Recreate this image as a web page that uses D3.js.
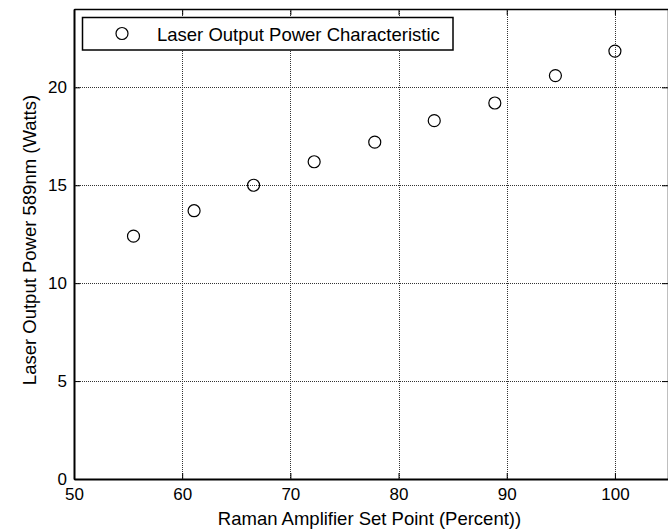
<!DOCTYPE html>
<html>
<head>
<meta charset="utf-8">
<script src="https://d3js.org/d3.v7.min.js"></script>
<style>
  body { margin: 0; background: #fff; }
  svg { display: block; font-family: "Liberation Sans", Arial, sans-serif; }
  .grid line { stroke: #333; stroke-width: 1; stroke-dasharray: 1,1; }
  .axis path, .axis line { stroke: #000; }
  .axis text { fill: #000; font-size: 17px; font-family: "Liberation Sans", Arial, sans-serif; }
</style>
</head>
<body>
<svg id="chart" width="668" height="529"></svg>
<script>
// values
var setPoint = [55.5, 61.1, 66.6, 72.2, 77.8, 83.3, 88.9, 94.5, 100];
var outputPower = [12.4, 13.7, 15.0, 16.2, 17.2, 18.3, 19.2, 20.6, 21.85];
var xTicks = [50, 60, 70, 80, 90, 100];
var yTicks = [0, 5, 10, 15, 20];
var xLabel = "Raman Amplifier Set Point (Percent))";
var yLabel = "Laser Output Power 589nm (Watts)";
var legendLabel = "Laser Output Power Characteristic";

var W = 668, H = 529;
var plot = {left: 74, right: 669, top: 9, bottom: 479};

var svg = d3.select("#chart");
svg.append("rect").attr("width", W).attr("height", H).attr("fill", "#fff");

var x = d3.scaleLinear().domain([50, 105]).range([plot.left, plot.right]);
var y = d3.scaleLinear().domain([0, 24]).range([plot.bottom, plot.top]);

// dotted grid
var grid = svg.append("g").attr("class", "grid");
grid.selectAll(".vx")
  .data(xTicks.slice(1))
  .enter().append("line")
  .attr("x1", d => Math.round(x(d)) + 0.5)
  .attr("x2", d => Math.round(x(d)) + 0.5)
  .attr("y1", plot.top)
  .attr("y2", plot.bottom);
grid.selectAll(".hy")
  .data(yTicks.slice(1))
  .enter().append("line")
  .attr("x1", plot.left)
  .attr("x2", plot.right)
  .attr("y1", d => Math.round(y(d)) + 0.5)
  .attr("y2", d => Math.round(y(d)) + 0.5);

// axes, ticks pointing inwards like matlab
svg.append("g")
  .attr("class", "axis")
  .attr("transform", "translate(0," + plot.bottom + ")")
  .call(d3.axisBottom(x).tickValues(xTicks).tickSizeInner(-6).tickSizeOuter(0).tickPadding(9))
  .call(g => g.select(".domain").attr("stroke-width", 2));

svg.append("g")
  .attr("class", "axis")
  .attr("transform", "translate(0," + plot.top + ")")
  .call(d3.axisTop(x).tickValues(xTicks).tickSizeInner(-6).tickSizeOuter(0).tickFormat(""))
  .call(g => g.select(".domain").attr("stroke-width", 1.5));

svg.append("g")
  .attr("class", "axis")
  .attr("transform", "translate(" + plot.left + ",0)")
  .call(d3.axisLeft(y).tickValues(yTicks).tickSizeInner(-6).tickSizeOuter(0).tickPadding(7))
  .call(g => g.select(".domain").attr("stroke-width", 2));

svg.append("g")
  .attr("class", "axis")
  .attr("transform", "translate(" + (plot.right - 1) + ",0)")
  .call(d3.axisRight(y).tickValues(yTicks).tickSizeInner(-6).tickSizeOuter(0).tickFormat(""))
  .call(g => g.select(".domain").attr("stroke-width", 1.5));

// axis titles
svg.append("text")
  .attr("x", (plot.left + plot.right) / 2 - 2)
  .attr("y", 525)
  .attr("text-anchor", "middle")
  .attr("font-size", 18.5)
  .text(xLabel);

svg.append("text")
  .attr("transform", "translate(36," + ((plot.top + plot.bottom) / 2 - 4) + ") rotate(-90)")
  .attr("text-anchor", "middle")
  .attr("font-size", 18.5)
  .text(yLabel);

// data points
svg.append("g")
  .selectAll("circle")
  .data(setPoint)
  .enter().append("circle")
  .attr("cx", (d, i) => x(d))
  .attr("cy", (d, i) => y(outputPower[i]))
  .attr("r", 6)
  .attr("fill", "none")
  .attr("stroke", "#000")
  .attr("stroke-width", 1.2);

// legend
var legend = svg.append("g");
legend.append("rect")
  .attr("x", 82.5)
  .attr("y", 17.5)
  .attr("width", 370.5)
  .attr("height", 32.5)
  .attr("fill", "#fff")
  .attr("stroke", "#000")
  .attr("stroke-width", 1.5);
legend.append("circle")
  .attr("cx", 122)
  .attr("cy", 33.5)
  .attr("r", 6)
  .attr("fill", "none")
  .attr("stroke", "#000")
  .attr("stroke-width", 1.2);
legend.append("text")
  .attr("x", 157)
  .attr("y", 41)
  .attr("font-size", 18.5)
  .text(legendLabel);
</script>
</body>
</html>
